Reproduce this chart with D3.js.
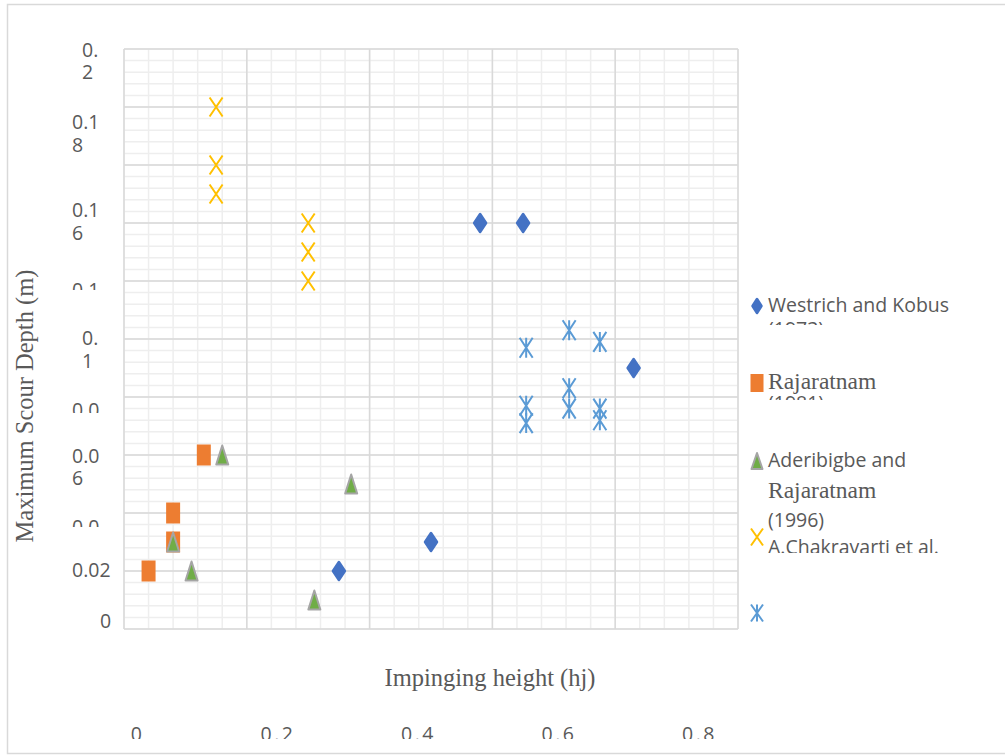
<!DOCTYPE html>
<head>
  <meta charset="utf-8">
  <script src="https://d3js.org/d3.v7.min.js"></script>
  <style>
    body { margin:0; background:#fff; }
    text { fill:#595959; }
  </style>
</head>

<body>
  <script>
    // values
    var westrichX = [0.58, 0.65, 0.83, 0.50, 0.35];
    var westrichY = [0.14, 0.14, 0.09, 0.03, 0.02];

    var rajaX = [0.13, 0.08, 0.08, 0.04];
    var rajaY = [0.06, 0.04, 0.03, 0.02];

    var aderiX = [0.16, 0.37, 0.08, 0.11, 0.31];
    var aderiY = [0.06, 0.05, 0.03, 0.02, 0.01];

    var chakX = [0.15, 0.15, 0.15, 0.30, 0.30, 0.30];
    var chakY = [0.18, 0.16, 0.15, 0.14, 0.13, 0.12];

    var fifthX = [0.655, 0.655, 0.655, 0.725, 0.725, 0.725, 0.775, 0.775, 0.775];
    var fifthY = [0.097, 0.077, 0.071, 0.103, 0.083, 0.076, 0.099, 0.076, 0.072];

    var legendNames = [
      ["Westrich and Kobus", "(1973)"],
      ["Rajaratnam", "(1981)"],
      ["Aderibigbe and", "Rajaratnam", "(1996)"],
      ["A.Chakravarti et al."],
      []
    ];

    var xTickLabels = ["0", "0.2", "0.4", "0.6", "0.8"];
    var yTickLabels = [["0.", "2"], ["0.1", "8"], ["0.1", "6"], ["0.1"], ["0.", "1"],
                       ["0.0"], ["0.0", "6"], ["0.0"], ["0.02"], ["0"]];

    var xTitle = "Impinging height (hj)";
    var yTitle = "Maximum Scour Depth (m)";

    // layout
    var width = 1005, height = 755;
    var plot = { left: 124, right: 738, top: 49, bottom: 629 };
    var sans = "'Open Sans', sans-serif";
    var serif = "'Liberation Serif', 'Times New Roman', serif";

    var svg = d3.select("body").append("svg")
      .attr("width", width)
      .attr("height", height);

    var defs = svg.append("defs");

    // chart area border (right side runs off the picture)
    svg.append("rect")
      .attr("x", 7.5).attr("y", 4.5)
      .attr("width", 1010).attr("height", 749)
      .attr("fill", "#fff")
      .attr("stroke", "#d9d9d9")
      .attr("stroke-width", 1.5);

    var x = d3.scaleLinear().domain([0, 1]).range([plot.left, plot.right]);
    var y = d3.scaleLinear().domain([0, 0.2]).range([plot.bottom, plot.top]);

    var grid = svg.append("g").attr("class", "grid");

    // minor grid
    grid.selectAll(".vminor")
      .data(d3.range(0, 1.0001, 0.04))
      .enter().append("line")
      .attr("x1", function(d){ return x(d); })
      .attr("x2", function(d){ return x(d); })
      .attr("y1", plot.top).attr("y2", plot.bottom)
      .attr("stroke", "#eeeeee").attr("stroke-width", 1.5);

    grid.selectAll(".hminor")
      .data(d3.range(0, 0.2001, 0.004))
      .enter().append("line")
      .attr("y1", function(d){ return y(d); })
      .attr("y2", function(d){ return y(d); })
      .attr("x1", plot.left).attr("x2", plot.right)
      .attr("stroke", "#eeeeee").attr("stroke-width", 1.5);

    // major grid
    grid.selectAll(".vmajor")
      .data(d3.range(0, 1.0001, 0.2))
      .enter().append("line")
      .attr("x1", function(d){ return x(d); })
      .attr("x2", function(d){ return x(d); })
      .attr("y1", plot.top).attr("y2", plot.bottom)
      .attr("stroke", "#d9d9d9").attr("stroke-width", 1.5);

    grid.selectAll(".hmajor")
      .data(d3.range(0, 0.2001, 0.02))
      .enter().append("line")
      .attr("y1", function(d){ return y(d); })
      .attr("y2", function(d){ return y(d); })
      .attr("x1", plot.left).attr("x2", plot.right)
      .attr("stroke", "#d9d9d9").attr("stroke-width", 1.5);

    // marker shapes, w x h box centred on 0,0
    function markerPath(type, w, h) {
      var a = w / 2, b = h / 2;
      if (type === "diamond") return "M0," + (-b) + "L" + a + ",0L0," + b + "L" + (-a) + ",0Z";
      if (type === "square") return "M" + (-a) + "," + (-b) + "H" + a + "V" + b + "H" + (-a) + "Z";
      if (type === "triangle") return "M0," + (-b) + "L" + a + "," + b + "H" + (-a) + "Z";
      var cross = "M" + (-a) + "," + (-b) + "L" + a + "," + b + "M" + a + "," + (-b) + "L" + (-a) + "," + b;
      if (type === "x") return cross;
      return cross + "M0," + (-b) + "V" + b;   // star
    }

    var series = [
      { xs: westrichX, ys: westrichY, type: "diamond", fill: "#4472c4", stroke: "#4472c4", sw: 2.5, w: 12, h: 18, lw: 9, lh: 14 },
      { xs: rajaX, ys: rajaY, type: "square", fill: "#ed7d31", stroke: "none", sw: 0, w: 14, h: 21, lw: 13, lh: 18 },
      { xs: aderiX, ys: aderiY, type: "triangle", fill: "#70ad47", stroke: "#a5a5a5", sw: 2, w: 12, h: 19, lw: 11, lh: 16 },
      { xs: chakX, ys: chakY, type: "x", fill: "none", stroke: "#ffc000", sw: 2, w: 13, h: 19, lw: 12, lh: 17 },
      { xs: fifthX, ys: fifthY, type: "star", fill: "none", stroke: "#5b9bd5", sw: 2, w: 13, h: 20, lw: 12, lh: 17 }
    ];

    var marks = svg.append("g").attr("class", "marks");

    series.forEach(function(s, si) {
      var pts = s.xs.map(function(v, i){ return { x: v, y: s.ys[i] }; });
      marks.append("g")
        .selectAll("path")
        .data(pts)
        .enter().append("path")
        .attr("d", markerPath(s.type, s.w, s.h))
        .attr("transform", function(d){ return "translate(" + x(d.x) + "," + y(d.y) + ")"; })
        .attr("fill", s.fill)
        .attr("stroke", s.stroke)
        .attr("stroke-width", s.sw)
        .attr("stroke-linejoin", "round");
    });

    // y tick labels (wrapped and partly cut, as in the original)
    var yLabelX = [82, 72, 72, 72, 82, 72, 72, 72, 72, 100];
    var yLabelBase = [[57, 79], [129, 152], [217, 240], [297], [345, 368],
                      [417], [463, 485], [534], [577], [628]];
    var yLabelClip = [null, null, null, 290, null, 413, null, 527, null, null];

    var yLab = svg.append("g").attr("class", "ylabels");
    yTickLabels.forEach(function(lines, i) {
      var g = yLab.append("g");
      if (yLabelClip[i] !== null) {
        var id = "yclip" + i;
        defs.append("clipPath").attr("id", id)
          .append("rect").attr("x", 0).attr("y", 0).attr("width", 120).attr("height", yLabelClip[i]);
        g.attr("clip-path", "url(#" + id + ")");
      }
      lines.forEach(function(t, j) {
        g.append("text")
          .attr("x", yLabelX[i])
          .attr("y", yLabelBase[i][j])
          .style("font-family", sans)
          .style("font-size", "19.5px")
          .text(t);
      });
    });

    // x tick labels, bottom half cut off by the chart edge
    var xLabelPos = d3.scaleLinear().domain([0, 0.8]).range([137.5, 699.5]);
    defs.append("clipPath").attr("id", "xclip")
      .append("rect").attr("x", 0).attr("y", 0).attr("width", width).attr("height", 739);

    svg.append("g").attr("clip-path", "url(#xclip)")
      .selectAll("text")
      .data(xTickLabels)
      .enter().append("text")
      .attr("x", function(d){ return xLabelPos(+d); })
      .attr("y", 741)
      .attr("text-anchor", "middle")
      .style("font-family", sans)
      .style("font-size", "19.5px")
      .style("letter-spacing", "2.5px")
      .text(function(d){ return d; });

    // axis titles
    svg.append("text")
      .attr("x", 490).attr("y", 686)
      .attr("text-anchor", "middle")
      .style("font-family", serif)
      .style("font-size", "24.5px")
      .text(xTitle);

    svg.append("text")
      .attr("transform", "translate(33,406) rotate(-90)")
      .attr("text-anchor", "middle")
      .style("font-family", serif)
      .style("font-size", "24.5px")
      .text(yTitle);

    // legend
    var legendMarkY = [306, 383, 461, 537, 613];
    var legendLineBase = [[312, 336], [389, 410], [467, 498, 527], [554], []];
    var legendLineFont = [[sans, sans], [serif, sans], [sans, serif, sans], [sans], []];
    var legendClip = [325, 400, null, 553, null];

    var legend = svg.append("g").attr("class", "legend");
    series.forEach(function(s, i) {
      legend.append("path")
        .attr("d", markerPath(s.type, s.lw, s.lh))
        .attr("transform", "translate(757," + legendMarkY[i] + ")")
        .attr("fill", s.fill)
        .attr("stroke", s.stroke)
        .attr("stroke-width", s.sw)
        .attr("stroke-linejoin", "round");

      var g = legend.append("g");
      if (legendClip[i] !== null) {
        var id = "lclip" + i;
        defs.append("clipPath").attr("id", id)
          .append("rect").attr("x", 760).attr("y", 0).attr("width", 300).attr("height", legendClip[i]);
        g.attr("clip-path", "url(#" + id + ")");
      }
      legendNames[i].forEach(function(t, j) {
        var f = legendLineFont[i][j];
        g.append("text")
          .attr("x", 768)
          .attr("y", legendLineBase[i][j])
          .style("font-family", f)
          .style("font-size", f === serif ? "23.5px" : "19.5px")
          .text(t);
      });
    });
  </script>
</body>
